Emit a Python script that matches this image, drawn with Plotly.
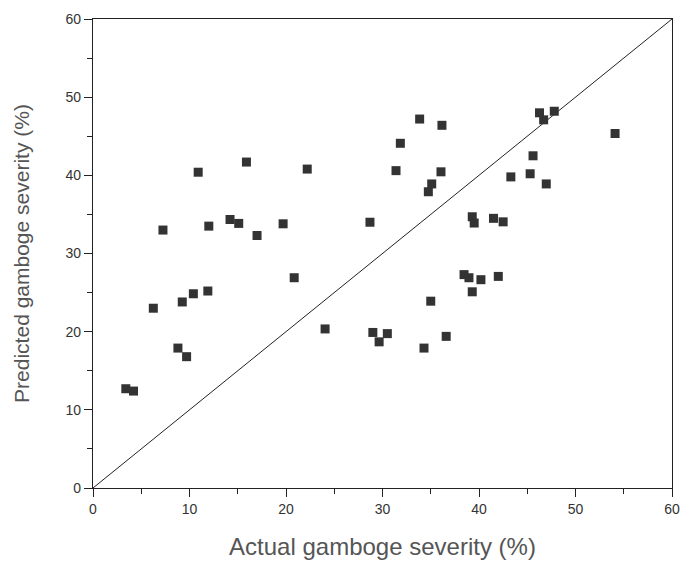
import plotly.graph_objects as go

actual = [3.4, 4.2, 6.25, 7.25, 8.8, 9.25, 9.7, 10.4, 10.9, 11.9,
          12.0, 14.2, 15.1, 15.9, 17.0, 19.7, 20.85, 22.2, 24.05, 28.7,
          29.0, 29.65, 30.5, 31.4, 31.85, 33.85, 34.3, 34.75, 35.0, 35.1,
          36.06, 36.16, 36.6, 38.45, 38.96, 39.3, 39.3, 39.5, 40.2, 41.5,
          42.0, 42.5, 43.3, 45.3, 45.6, 46.27, 46.7, 46.97, 47.8, 54.1]
predicted = [12.7, 12.4, 23.0, 33.0, 17.9, 23.8, 16.8, 24.85, 40.4, 25.2,
             33.5, 34.35, 33.85, 41.7, 32.3, 33.8, 26.9, 40.8, 20.35, 34.0,
             19.9, 18.7, 19.75, 40.6, 44.1, 47.2, 17.9, 37.9, 23.9, 38.9,
             40.45, 46.4, 19.4, 27.3, 26.9, 25.1, 34.7, 33.9, 26.65, 34.5,
             27.07, 34.05, 39.8, 40.2, 42.5, 48.0, 47.1, 38.9, 48.2, 45.35]
diag = [0, 60]
tick_vals = [0, 10, 20, 30, 40, 50, 60]

fig = go.Figure()
fig.add_trace(go.Scatter(x=diag, y=diag, mode="lines",
                         line=dict(color="#222222", width=1), hoverinfo="skip"))
fig.add_trace(go.Scatter(x=actual, y=predicted, mode="markers",
                         marker=dict(symbol="square", size=9, color="#333333",
                                     line=dict(width=0))))

axis_common = dict(
    range=[0, 60], tickvals=tick_vals, showgrid=False, zeroline=False,
    showline=True, linecolor="#222222", linewidth=1.3, mirror=True,
    ticks="outside", ticklen=8, tickwidth=1.3, tickcolor="#222222",
    tickfont=dict(family="Liberation Sans, Arial, sans-serif", size=14, color="#333333"),
    minor=dict(dtick=5, ticks="outside", ticklen=5, tickwidth=1.2, tickcolor="#222222"),
    automargin=False,
)

fig.update_xaxes(**axis_common,
                 title=dict(text="Actual gamboge severity (%)", standoff=22,
                            font=dict(family="Liberation Sans, Arial, sans-serif", size=24, color="#555555")))
fig.update_yaxes(**axis_common,
                 title=dict(text="Predicted gamboge severity (%)", standoff=30,
                            font=dict(family="Liberation Sans, Arial, sans-serif", size=21, color="#555555")))

fig.update_layout(
    width=681, height=565,
    margin=dict(l=93, r=9, t=19, b=77),
    plot_bgcolor="white", paper_bgcolor="white",
    showlegend=False,
)

fig.write_html("out.html", config={"displayModeBar": False},
               post_script="document.body.style.margin='0';")
